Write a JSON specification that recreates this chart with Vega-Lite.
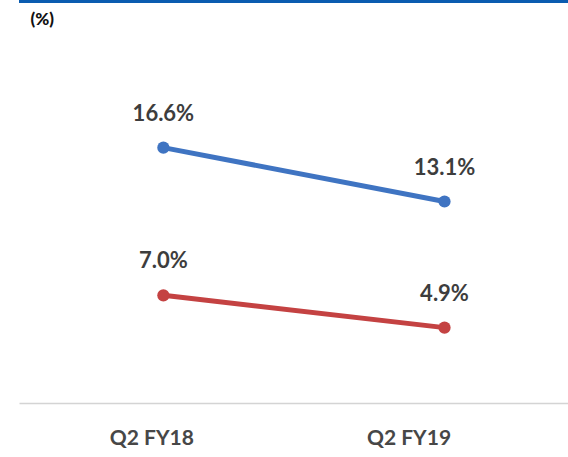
{
  "$schema": "https://vega.github.io/schema/vega-lite/v6.json",
  "width": 551,
  "height": 403,
  "padding": {"left": 17, "top": 0, "right": 0, "bottom": 0},
  "config": {"view": {"stroke": null}, "font": "Lato"},
  "data": {"values": [
    {"period": "Q2 FY18", "series": "A", "value": 16.6, "label": "16.6%"},
    {"period": "Q2 FY19", "series": "A", "value": 13.1, "label": "13.1%"},
    {"period": "Q2 FY18", "series": "B", "value": 7.0, "label": "7.0%"},
    {"period": "Q2 FY19", "series": "B", "value": 4.9, "label": "4.9%"}
  ]},
  "encoding": {
    "x": {"field": "period", "type": "ordinal", "sort": null,
      "scale": {"type": "point", "padding": 0.48, "align": 0.535},
      "axis": {"title": null, "domainColor": "#d4d4d4", "domainWidth": 1.5, "ticks": false,
        "labelAngle": 0, "labelFont": "Lato", "labelFontWeight": "bold", "labelFontSize": 21,
        "labelColor": "#474747", "labelPadding": 24,
        "labelOffset": {"condition": {"test": "datum.value === 'Q2 FY19'", "value": -36}, "value": -12}}},
    "y": {"field": "value", "type": "quantitative", "scale": {"domain": [0, 26.2]},
      "axis": {"title": "(%)", "titleAngle": 0, "titleAlign": "left", "titleBaseline": "middle",
        "titleX": 11, "titleY": 19, "titleFontSize": 17, "titleFontWeight": 900, "titleColor": "#111",
        "labels": false, "ticks": false, "domain": false, "grid": false}},
    "color": {"field": "series", "type": "nominal", "legend": null,
      "scale": {"domain": ["A", "B"], "range": ["#3f74c2", "#c44242"]}}
  },
  "layer": [
    {"mark": {"type": "rule", "color": "#0a5cb0", "strokeWidth": 3},
     "data": {"values": [{"top": 26.1}]},
     "encoding": {"y": {"field": "top", "type": "quantitative"}, "x": null, "color": null}},
    {"mark": {"type": "line", "strokeWidth": 5}},
    {"mark": {"type": "circle", "size": 150, "opacity": 1}},
    {"mark": {"type": "text", "dy": -34, "fontSize": 22, "fontWeight": "bold", "font": "Lato", "color": "#3d3d3d"},
     "encoding": {"text": {"field": "label"}, "color": null}}
  ]
}
